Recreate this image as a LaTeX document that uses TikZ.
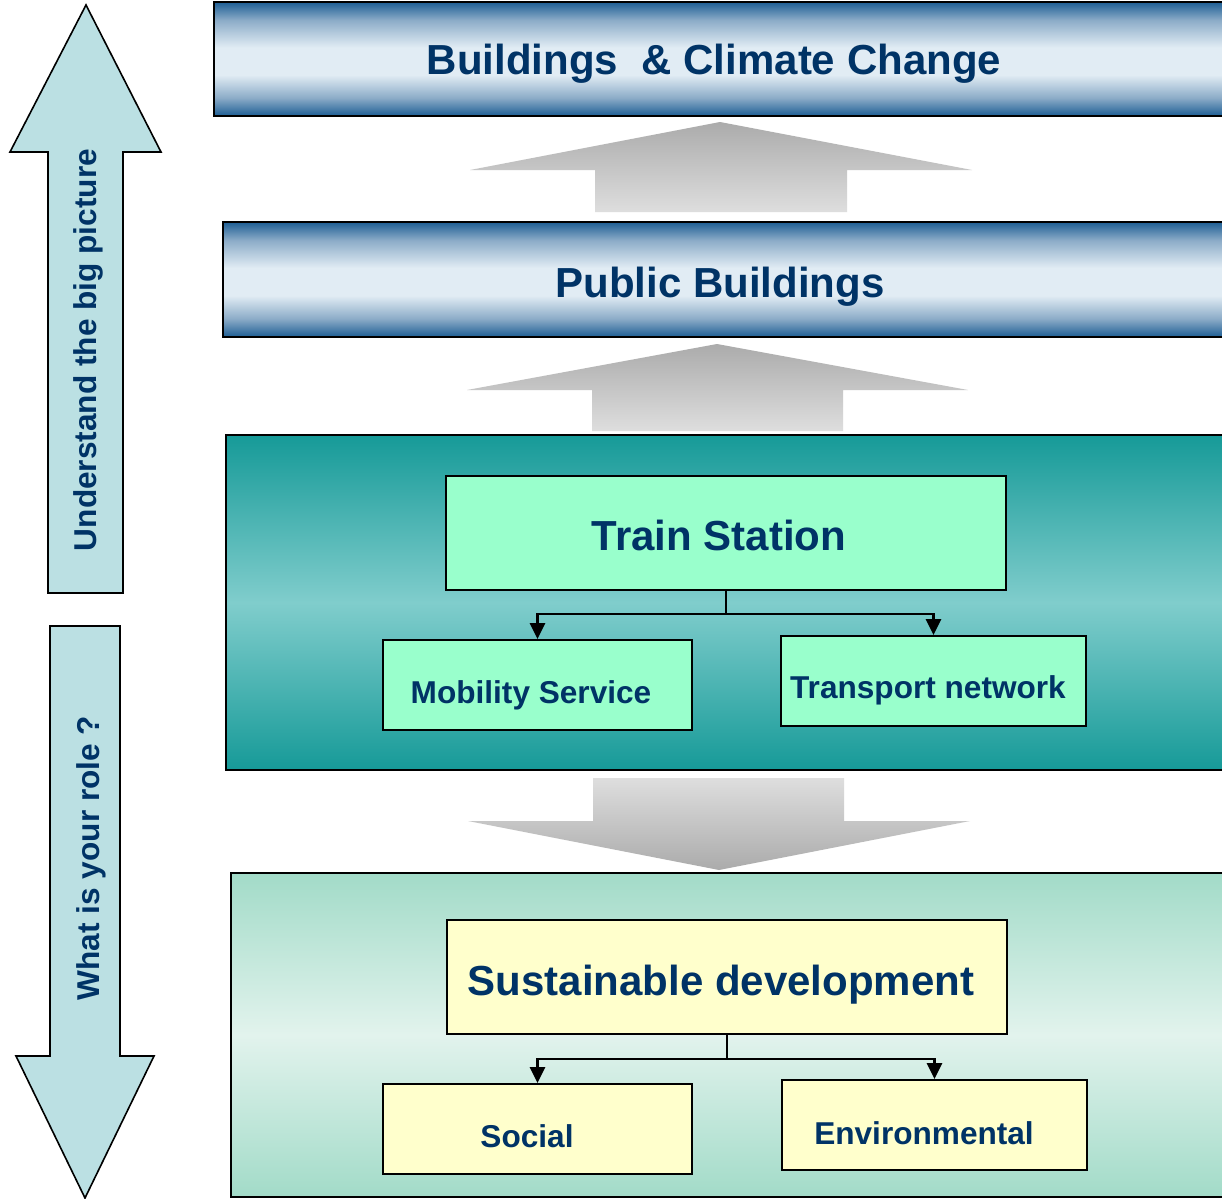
\documentclass[tikz,border=0pt]{standalone}
\usepackage{fontspec}
\setmainfont{Liberation Sans}
\usetikzlibrary{arrows.meta}

\definecolor{navy}{HTML}{003366}
\definecolor{bdark}{RGB}{30,94,148}
\definecolor{bmid}{RGB}{140,172,200}
\definecolor{blight}{RGB}{225,236,244}
\definecolor{tealdark}{HTML}{169A98}
\definecolor{teallight}{HTML}{80CDCC}
\definecolor{mintbox}{HTML}{99FFCC}
\definecolor{greendark}{HTML}{A2DBC8}
\definecolor{greenlight}{HTML}{E2F3ED}
\definecolor{yellowbox}{HTML}{FFFFCC}
\definecolor{sidefill}{HTML}{BBE0E3}
\definecolor{greydark}{HTML}{ABABAB}
\definecolor{greylight}{HTML}{DEDEDE}

\pgfdeclareverticalshading{banner}{100bp}{color(0bp)=(bdark); color(25bp)=(bdark); color(33bp)=(bmid); color(43bp)=(blight); color(55bp)=(blight); color(67bp)=(bmid); color(75bp)=(bdark); color(100bp)=(bdark)}

\tikzset{
  bannerbox/.style={draw=black, line width=1pt, shading=banner, inner sep=0pt},
  bigtext/.style={text=navy, font=\bfseries\fontsize{21}{25}\selectfont, inner sep=0pt},
  subtext/.style={text=navy, font=\bfseries\fontsize{15.8}{19}\selectfont, inner sep=0pt},
  childbox/.style={draw=black, line width=1pt, inner sep=0pt},
  conn/.style={draw=black, line width=1.4pt, -{Triangle[length=8pt,width=7.5pt]}},
  greyarrow/.style={draw=none},
  sidearrow/.style={draw=black, line width=0.8pt, fill=sidefill},
}

\begin{document}
\begin{tikzpicture}[x=0.5pt, y=-0.5pt]
\useasboundingbox (0,0) rectangle (1222,1199);
\clip (0,0) rectangle (1222,1199);
\fill[white] (0,0) rectangle (1222,1199);

% banners
\node[bannerbox, minimum width=508pt, minimum height=57pt] (b1) at (722,59) {};
\node[bigtext, anchor=base] (b1t) at (714,74) {Buildings\ \ \& Climate Change};

\node[bannerbox, minimum width=503.5pt, minimum height=57.5pt] (b2) at (726.5,279.5) {};
\node[bigtext, anchor=base] (b2t) at (720,297) {Public Buildings};

% grey arrows
\shade[greyarrow, top color=greydark, bottom color=greylight]
  (720,122) -- (972,170) -- (847,170) -- (847,212) -- (595,212) -- (595,170) -- (470,170) -- cycle;
\shade[greyarrow, top color=greydark, bottom color=greylight]
  (717,344) -- (968,390) -- (843,390) -- (843,431) -- (592,431) -- (592,390) -- (467,390) -- cycle;
\shade[greyarrow, top color=greylight, bottom color=greydark]
  (593,778) -- (844,778) -- (844,821) -- (970,821) -- (719,870) -- (468,821) -- (593,821) -- cycle;

% teal panel
\node[draw=black, line width=1pt, top color=tealdark, bottom color=tealdark, middle color=teallight,
      minimum width=502pt, minimum height=167.5pt, inner sep=0pt] (teal) at (728,602.5) {};
\node[childbox, fill=mintbox, minimum width=280pt, minimum height=57pt] (ts) at (726,533) {};
\node[bigtext, anchor=base] (tst) at (719,550) {Train Station};
\node[childbox, fill=mintbox, minimum width=154.5pt, minimum height=45pt] (ms) at (537.5,685) {};
\node[subtext, anchor=base] (mst) at (531,703) {Mobility Service};
\node[childbox, fill=mintbox, minimum width=152.5pt, minimum height=45pt] (tn) at (933.5,681) {};
\node[subtext, anchor=base] (tnt) at (928,698) {Transport network};
\draw[conn] (ts.south) -- ++(0,23) -| (ms.north);
\draw[conn] (ts.south) -- ++(0,23) -| (tn.north);

% green panel
\node[draw=black, line width=1pt, top color=greendark, bottom color=greendark, middle color=greenlight,
      minimum width=499.5pt, minimum height=162pt, inner sep=0pt] (green) at (730.5,1035) {};
\node[childbox, fill=yellowbox, minimum width=280pt, minimum height=57pt] (sd) at (727,977) {};
\node[bigtext, anchor=base] (sdt) at (721,995) {Sustainable development};
\node[childbox, fill=yellowbox, minimum width=154.5pt, minimum height=45pt] (so) at (537.5,1129) {};
\node[subtext, anchor=base] (sot) at (527,1147) {Social};
\node[childbox, fill=yellowbox, minimum width=152.5pt, minimum height=45pt] (en) at (934.5,1125) {};
\node[subtext, anchor=base] (ent) at (924,1144) {Environmental};
\draw[conn] (sd.south) -- ++(0,24) -| (so.north);
\draw[conn] (sd.south) -- ++(0,24) -| (en.north);

% side arrows
\draw[sidearrow] (86,5) -- (161,152) -- (123,152) -- (123,593) -- (48,593) -- (48,152) -- (10,152) -- cycle;
\node[subtext, rotate=90, anchor=base] (up) at (96,350) {Understand the big picture};
\draw[sidearrow] (50,626) -- (120,626) -- (120,1056) -- (154,1056) -- (85,1198) -- (16,1056) -- (50,1056) -- cycle;
\node[subtext, rotate=90, anchor=base] (down) at (99,858) {What is your role ?};
\end{tikzpicture}
\end{document}
